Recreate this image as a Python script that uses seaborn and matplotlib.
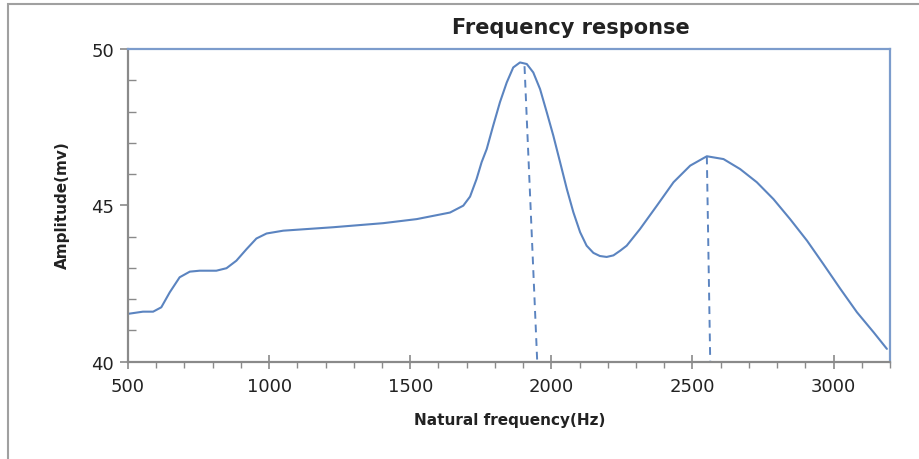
import matplotlib
matplotlib.use("Agg")
import matplotlib.pyplot as plt
from matplotlib.ticker import MultipleLocator
from matplotlib.patches import Rectangle
import seaborn as sns
import pandas as pd

# Data
freq = [500, 553, 589, 618, 648, 683, 719, 754, 813, 849, 884, 920, 955, 991, 1050,
        1227, 1404, 1523, 1641, 1688, 1712, 1735, 1753, 1771, 1794, 1818, 1842, 1865,
        1889, 1913, 1936, 1960, 1984, 2007, 2031, 2055, 2078, 2102, 2125, 2149, 2172,
        2196, 2220, 2244, 2267, 2314, 2374, 2433, 2492, 2551, 2610, 2669, 2728, 2787,
        2846, 2906, 2964, 3024, 3083, 3142, 3189]
amp = [41.53, 41.6, 41.6, 41.74, 42.22, 42.7, 42.88, 42.91, 42.91, 42.99, 43.23, 43.6,
       43.94, 44.1, 44.19, 44.3, 44.43, 44.56, 44.77, 44.99, 45.28, 45.84, 46.38,
       46.8, 47.55, 48.3, 48.93, 49.41, 49.57, 49.52, 49.25, 48.72, 47.97, 47.23,
       46.38, 45.52, 44.78, 44.14, 43.71, 43.48, 43.38, 43.35, 43.4, 43.55, 43.71,
       44.24, 44.99, 45.74, 46.27, 46.57, 46.48, 46.16, 45.74, 45.2, 44.56, 43.87,
       43.12, 42.33, 41.58, 40.94, 40.41]

# Dashed marker lines from the two peaks down to the axis
dash_x_top = [1905, 2551]
dash_x_bottom = [1950, 2563]
dash_y_top = [49.45, 46.56]

x_ticks = [500, 1000, 1500, 2000, 2500, 3000]
y_ticks = [40, 45, 50]

sns.set_theme(style="white")
plt.rcParams["font.family"] = ["DejaVu Sans"]

line_color = "#5b84c0"

fig = plt.figure(figsize=(9.2, 4.6), dpi=100)
ax = fig.add_axes([128 / 920, 1 - 362.7 / 460, (890 - 128) / 920, (362.7 - 50) / 460])

df = pd.DataFrame({"freq": freq, "amp": amp})
sns.lineplot(data=df, x="freq", y="amp", ax=ax, color=line_color, linewidth=1.5)

for xt, xb, yt in zip(dash_x_top, dash_x_bottom, dash_y_top):
    ax.plot([xt, xb], [yt, 40], linestyle=(0, (4, 3)), color=line_color, linewidth=1.4)

ax.set_xlim(500, 3200)
ax.set_ylim(40, 50)
ax.set_xticks(x_ticks)
ax.set_yticks(y_ticks)
ax.xaxis.set_minor_locator(MultipleLocator(100))
ax.yaxis.set_minor_locator(MultipleLocator(1))
ax.tick_params(axis="x", which="major", direction="inout", length=10, width=1.2,
               color="#8a8a8a", labelsize=13, pad=6, bottom=True)
ax.tick_params(axis="x", which="minor", direction="out", length=4, width=1,
               color="#8a8a8a", bottom=True)
ax.tick_params(axis="y", which="major", direction="out", length=6, width=1.2,
               color="#8a8a8a", labelsize=13, pad=4, left=True)
ax.tick_params(axis="y", which="minor", direction="in", length=6, width=1,
               color="#8a8a8a", left=True)
for lbl in ax.get_xticklabels() + ax.get_yticklabels():
    lbl.set_color("#222222")

for side in ["left", "bottom"]:
    ax.spines[side].set_color("#8a8a8a")
    ax.spines[side].set_linewidth(1.6)
for side in ["top", "right"]:
    ax.spines[side].set_color("#7c9ccc")
    ax.spines[side].set_linewidth(1.6)

ax.set_xlabel("")
ax.set_ylabel("")
fig.text(510 / 920, 1 - 421 / 460, "Natural frequency(Hz)", ha="center", va="center",
         fontsize=11, fontweight="bold", color="#222222")
fig.text(62 / 920, 1 - 205 / 460, "Amplitude(mv)", ha="center", va="center",
         rotation=90, fontsize=11, fontweight="bold", color="#222222")
fig.text(571 / 920, 1 - 28 / 460, "Frequency response", ha="center", va="center",
         fontsize=15, fontweight="bold", color="#222222")

fig.patches.append(Rectangle((8 / 920, -0.1), 1.2, 1 - 5 / 460 + 0.1,
                             transform=fig.transFigure, fill=False,
                             edgecolor="#a0a0a0", linewidth=1.5))

fig.savefig("out.png", dpi=100)
